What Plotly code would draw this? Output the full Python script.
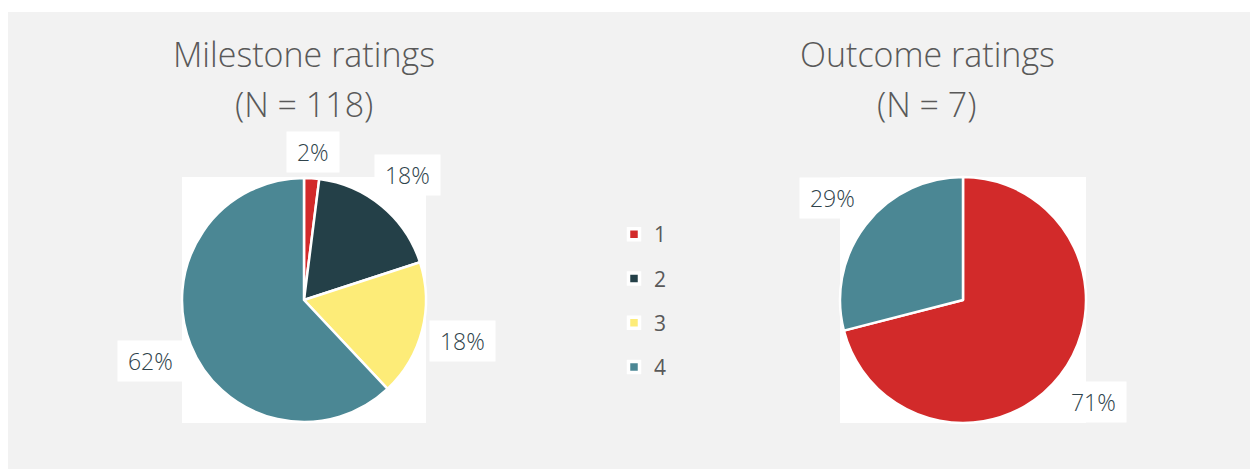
import math
import plotly.graph_objects as go

W, H = 1250, 469
OX, OY = 0, 0   # page offset of the figure (body margin removed below)

# ---- data ----
categories = ["1", "2", "3", "4"]
colors = ["#D22A2A", "#244048", "#FDEC78", "#4B8794"]

milestone_labels = ["1", "2", "3", "4"]
milestone_values = [2, 18, 18, 62]          # percent
outcome_labels = ["1", "4"]
outcome_values = [71, 29]                    # percent

title_lines = [["Milestone ratings", "(N = 118)"], ["Outcome ratings", "(N = 7)"]]

color_map = dict(zip(categories, colors))

# ---- layout geometry (window pixels) ----
pie_boxes = [(182, 177, 426, 423), (840, 177, 1086, 423)]   # x0, y0, x1, y1
title_cx = [304, 927]
title_split = 79
title_anchor = ["bottom", "top"]

def px_x(x):
    return (x - OX) / W

def px_y(y):
    return 1 - (y - OY) / H

fig = go.Figure()

font_family = "'Open Sans', Lato, sans-serif"
label_color = "#2F434B"

datasets = [(milestone_labels, milestone_values), (outcome_labels, outcome_values)]
annotations = []
for i, ((labs, vals), box) in enumerate(zip(datasets, pie_boxes)):
    x0, y0, x1, y1 = box
    fig.add_trace(go.Pie(
        labels=labs, values=vals, sort=False, direction="clockwise", rotation=0,
        marker=dict(colors=[color_map[l] for l in labs], line=dict(color="white", width=2.5)),
        textinfo="none", hoverinfo="label+percent",
        domain=dict(x=[px_x(x0), px_x(x1)], y=[px_y(y1), px_y(y0)]),
        showlegend=False,
    ))
    # outside-end labels with white boxes, positioned from slice mid-angles
    cx, cy = (x0 + x1) / 2, (y0 + y1) / 2
    r = min(x1 - x0, y1 - y0) / 2
    total = sum(vals)
    cum = 0
    for lab, v in zip(labs, vals):
        mid = (cum + v / 2) / total * 2 * math.pi
        cum += v
        pct = f"{round(v / total * 100)}%"
        ux, uy = math.sin(mid), math.cos(mid)
        bw = 22 + 14 * len(pct)
        bh = 37
        d = r + 6 + abs(ux) * bw / 2 + abs(uy) * bh / 2
        lx, ly = cx + d * ux, cy - d * uy
        annotations.append(dict(
            x=px_x(lx), y=px_y(ly), xref="paper", yref="paper",
            text="\u00a0" + pct + "\u00a0", showarrow=False,
            xanchor="center", yanchor="middle",
            bgcolor="white", borderpad=4,
            font=dict(family=font_family, size=23, color=label_color, weight=300),
        ))

# legend entries (one group per category so the gap between them can be set)
for cat in categories:
    fig.add_trace(go.Scatter(
        x=[None], y=[None], mode="markers", name=cat, legendgroup=cat,
        marker=dict(symbol="square", size=11, color=color_map[cat],
                    line=dict(color="white", width=3.5)),
        hoverinfo="skip",
    ))

for lines, cx in zip(title_lines, title_cx):
    for line, anchor in zip(lines, title_anchor):
        annotations.append(dict(
            x=px_x(cx), y=px_y(title_split), xref="paper", yref="paper",
            text=line, showarrow=False, xanchor="center", yanchor=anchor,
            font=dict(family=font_family, size=34, color="#595959", weight=300),
        ))

shapes = [dict(type="rect", xref="paper", yref="paper",
               x0=px_x(8), x1=1.05, y0=-0.05, y1=px_y(12),
               fillcolor="#F2F2F2", line=dict(width=0), layer="below")]
for (x0, y0, x1, y1) in pie_boxes:
    shapes.append(dict(type="rect", xref="paper", yref="paper",
                       x0=px_x(x0), x1=px_x(x1), y0=px_y(y1), y1=px_y(y0),
                       fillcolor="white", line=dict(width=0), layer="below"))

fig.update_layout(
    width=W, height=H,
    margin=dict(l=0, r=0, t=0, b=0),
    paper_bgcolor="white", plot_bgcolor="rgba(0,0,0,0)",
    xaxis=dict(visible=False), yaxis=dict(visible=False),
    shapes=shapes, annotations=annotations,
    legend=dict(x=px_x(614), y=px_y(214), xanchor="left", yanchor="top",
                traceorder="grouped", tracegroupgap=14,
                font=dict(family=font_family, size=21, color="#595959"),
                bgcolor="rgba(0,0,0,0)"),
)

fig.write_html("out.html", config={"displayModeBar": False},
               post_script="document.body.style.margin='0px';document.body.style.overflow='hidden';")
